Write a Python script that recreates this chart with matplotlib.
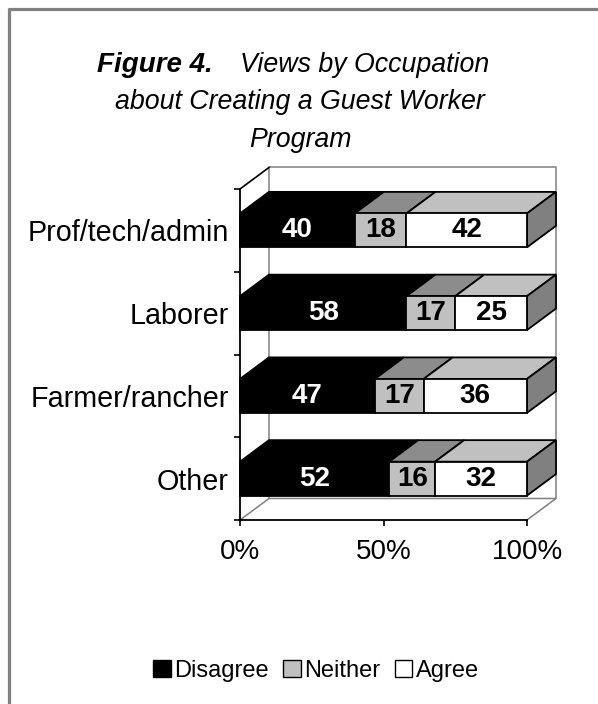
import matplotlib.pyplot as plt
from matplotlib.patches import Polygon, Patch
from matplotlib.lines import Line2D

plt.rcParams['font.family'] = ['Liberation Sans', 'DejaVu Sans']

categories = ['Prof/tech/admin', 'Laborer', 'Farmer/rancher', 'Other']
disagree = [40, 58, 47, 52]
neither = [18, 17, 17, 16]
agree = [42, 25, 36, 32]
series_names = ['Disagree', 'Neither', 'Agree']
xticks = [0, 50, 100]
xtick_labels = ['0%', '50%', '100%']

W, H = 598, 704
fig = plt.figure(figsize=(W / 100, H / 100), dpi=100)

# front plane of the pseudo-3D plot, in pixels
left_px, right_px, top_px, bot_px = 240, 527, 189, 520
ax = fig.add_axes([left_px / W, 1 - bot_px / H, (right_px - left_px) / W, (bot_px - top_px) / H])
n = len(categories)
ax.set_xlim(0, 100)
ax.set_ylim(0, n)

dx, dy = 10.1, 0.26       # depth offset
bar_h = 0.41
front_cols = ['black', '#c0c0c0', 'white']
top_cols = ['black', '#8c8c8c', '#c0c0c0']
side_col = '#808080'
wall = '#808080'

# back walls / floor
wl = dict(color=wall, lw=1.1, zorder=1, clip_on=False)
ax.plot([dx, dx, 100 + dx, 100 + dx], [dy, n + dy, n + dy, dy], **wl)
ax.plot([0, dx, 100 + dx, 100], [0, dy, dy, 0], **wl)
ax.plot([0, dx], [n, n + dy], color='black', lw=1.2, zorder=1, clip_on=False)

for i, cat in enumerate(categories):
    c = n - 0.5 - i
    y0, y1 = c - bar_h / 2, c + bar_h / 2
    vals = [disagree[i], neither[i], agree[i]]
    start = 0
    for j, v in enumerate(vals):
        top = Polygon([(start, y1), (start + v, y1), (start + v + dx, y1 + dy), (start + dx, y1 + dy)],
                      closed=True, fc=top_cols[j], ec='black', lw=1.3, zorder=3, clip_on=False)
        ax.add_patch(top)
        front = Polygon([(start, y0), (start + v, y0), (start + v, y1), (start, y1)],
                        closed=True, fc=front_cols[j], ec='black', lw=1.3, zorder=4, clip_on=False)
        ax.add_patch(front)
        ax.text(start + v / 2, c, str(v), ha='center', va='center', fontsize=20, fontweight='bold',
                color='white' if j == 0 else 'black', zorder=5)
        start += v
    side = Polygon([(start, y0), (start + dx, y0 + dy), (start + dx, y1 + dy), (start, y1)],
                   closed=True, fc=side_col, ec='black', lw=1.3, zorder=3, clip_on=False)
    ax.add_patch(side)

for s in ['top', 'right']:
    ax.spines[s].set_visible(False)
for s in ['left', 'bottom']:
    ax.spines[s].set_linewidth(1.3)
    ax.spines[s].set_zorder(6)

ax.set_yticks(range(n + 1))
ax.set_yticklabels([])
ax.set_yticks([n - 0.5 - i for i in range(n)], minor=True)
ax.set_yticklabels(categories, minor=True, fontsize=20.7)
ax.tick_params(axis='y', which='major', length=4, width=1.2, direction='out')
ax.tick_params(axis='y', which='minor', length=0, pad=8)
ax.set_xticks(xticks)
ax.set_xticklabels(xtick_labels, fontsize=20)
ax.tick_params(axis='x', length=4, width=1.2, direction='out', pad=10)
ax.patch.set_visible(False)

# title
def fx(x):
    return x / W

def fy(y):
    return 1 - y / H

fig.text(fx(213), fy(72), 'Figure 4.', ha='right', va='baseline', fontsize=20,
         fontweight='bold', style='italic')
fig.text(fx(240), fy(72), 'Views by Occupation', ha='left', va='baseline', fontsize=19.3, style='italic')
fig.text(fx(300), fy(109), 'about Creating a Guest Worker', ha='center', va='baseline', fontsize=19.3, style='italic')
fig.text(fx(300), fy(147), 'Program', ha='center', va='baseline', fontsize=19.3, style='italic')

handles = [Patch(fc=front_cols[k], ec='black', lw=1.0) for k in range(3)]
fig.legend(handles, series_names, loc='center', bbox_to_anchor=(fx(316), fy(671)), ncol=3,
           frameon=False, fontsize=17, handlelength=0.75, handleheight=0.75,
           handletextpad=0.15, columnspacing=0.6, borderpad=0)

# outer frame (only left and top edges are visible in the crop)
fig.add_artist(Line2D([fx(8.5), fx(8.5), fx(W + 5)], [fy(H + 5), fy(8.5), fy(8.5)],
                      transform=fig.transFigure, color='#808080', lw=2.3))

fig.savefig('out.png', dpi=100)
